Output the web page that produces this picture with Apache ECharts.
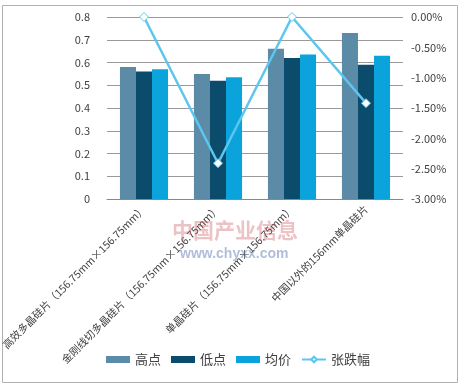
<!DOCTYPE html>
<html><head><meta charset="utf-8">
<script src="https://cdn.jsdelivr.net/npm/echarts@6/dist/echarts.min.js"></script>
<style>html,body{margin:0;padding:0;background:#fff}#c{width:461px;height:388px}</style>
</head><body><div id="c"></div>
<script>
const categories = ['高效多晶硅片（156.75mm×156.75mm）','金刚线切多晶硅片（156.75mm×156.75mm）','单晶硅片（156.75mm×156.75mm）','中国以外的156mm单晶硅片'];
const highVals = [0.58, 0.55, 0.66, 0.73];
const lowVals = [0.56, 0.52, 0.62, 0.59];
const avgVals = [0.57, 0.535, 0.635, 0.63];
const changeVals = [0, -2.41, 0, -1.42];
const font = '"Noto Sans CJK SC", "Noto Sans", sans-serif';
const chart = echarts.init(document.getElementById('c'));
chart.setOption({
  animation:false,
  textStyle:{fontFamily:font},
  graphic:[
    {type:'rect',shape:{x:2.5,y:5.5,width:455,height:377},style:{fill:'none',stroke:'#b0b0b0',lineWidth:1},z:-10},
    {type:'text',left:172,top:220,style:{text:'中国产业信息',fill:'rgba(200,80,90,0.35)',font:'bold 21px "Noto Sans CJK SC"'},z:50},
    {type:'text',left:180,top:247,style:{text:'www.chyxx.com',fill:'rgba(60,90,160,0.4)',font:'bold 14px Arial'},z:50}
  ],
  grid:{left:107,right:58,top:17,bottom:189,containLabel:false,outerBoundsMode:'none'},
  legend:{bottom:17,left:101,itemWidth:24,itemHeight:7,itemGap:10,
    textStyle:{fontSize:13,color:'#404040',fontFamily:font},
    data:[{name:'高点',icon:'rect'},{name:'低点',icon:'rect'},{name:'均价',icon:'rect'},{name:'张跌幅'}]},
  xAxis:{type:'category',data:categories,
    axisLine:{lineStyle:{color:'#888'}},axisTick:{show:false},
    axisLabel:{rotate:45,fontSize:10.5,color:'#404040',interval:0,margin:8}},
  yAxis:[
    {type:'value',min:0,max:0.8,interval:0.1,
     axisLabel:{fontSize:11,color:'#404040',margin:17,formatter:v=>v===0?'0':v.toFixed(1)},
     axisLine:{show:false},axisTick:{show:false},
     splitLine:{lineStyle:{color:'#9a9a9a'}}},
    {type:'value',min:-3,max:0,interval:0.5,position:'right',
     axisLabel:{fontSize:11,color:'#404040',margin:8,formatter:v=>v.toFixed(2)+'%'},
     axisLine:{show:false},axisTick:{show:false},splitLine:{show:false}}
  ],
  series:[
    {name:'高点',type:'bar',data:highVals,barGap:'0%',barCategoryGap:'35%',itemStyle:{color:'#5b8ba6'}},
    {name:'低点',type:'bar',data:lowVals,barGap:'0%',barCategoryGap:'35%',itemStyle:{color:'#0b4b6b'}},
    {name:'均价',type:'bar',data:avgVals,barGap:'0%',barCategoryGap:'35%',itemStyle:{color:'#0aa3dc'}},
    {name:'张跌幅',type:'line',yAxisIndex:1,data:changeVals,symbol:'diamond',symbolSize:9,
     lineStyle:{color:'#5cc6ee',width:2.5},itemStyle:{color:'#ffffff',borderColor:'#5cc6ee',borderWidth:1},z:10}
  ]
});
</script></body></html>
